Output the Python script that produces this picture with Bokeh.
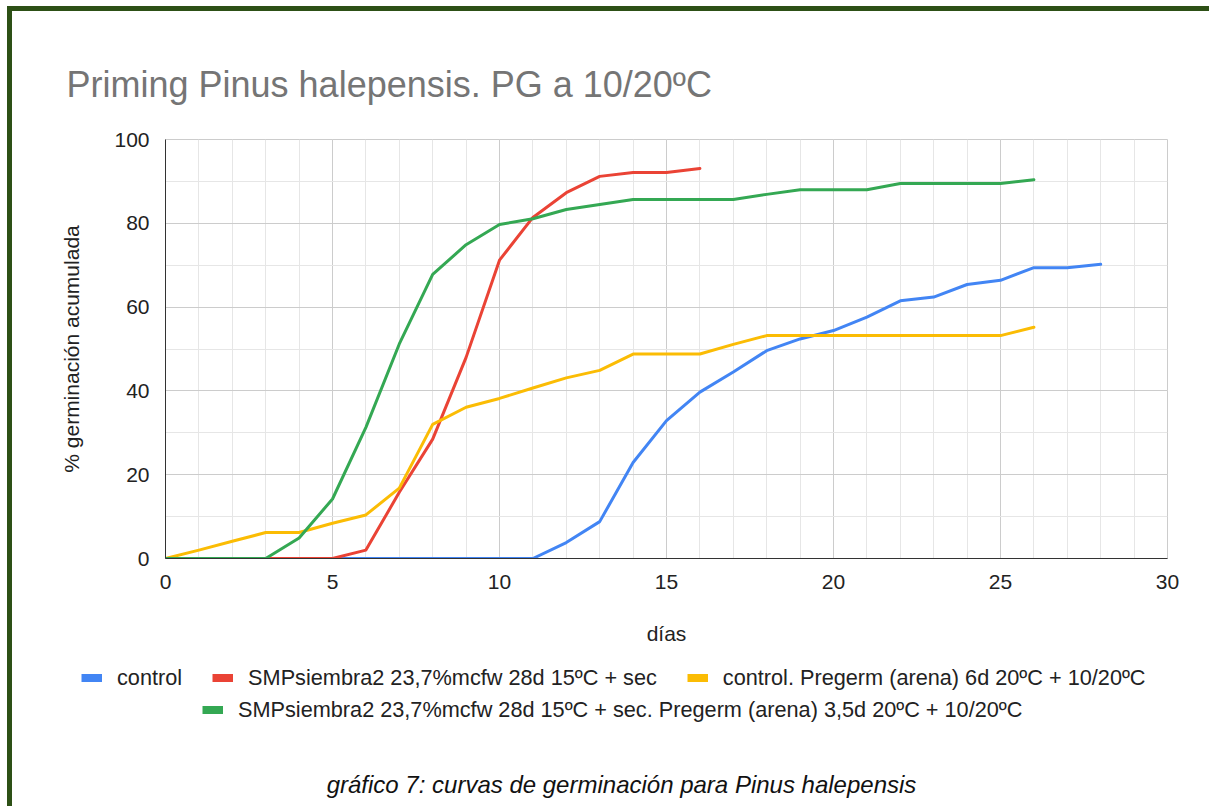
from bokeh.plotting import figure
from bokeh.models import (Range1d, SingleIntervalTicker, Legend, LegendItem, Label)
from bokeh.layouts import column
from bokeh.embed import file_html
from bokeh.resources import INLINE

# ---------------- data ----------------
title_text = "Priming Pinus halepensis. PG a 10/20ºC"
caption_text = "gráfico 7: curvas de germinación para Pinus halepensis"
x_label = "días"
y_label = "% germinación acumulada"

series_names = [
    "control",
    "SMPsiembra2 23,7%mcfw 28d 15ºC + sec",
    "control. Pregerm (arena) 6d 20ºC + 10/20ºC",
    "SMPsiembra2 23,7%mcfw 28d 15ºC + sec. Pregerm (arena) 3,5d 20ºC + 10/20ºC",
]
series_colors = ["#4285F4", "#EA4335", "#FBBC04", "#34A853"]

days_control = list(range(0, 29))
control = [0, 0, 0, 0, 0, 0, 0, 0, 0, 0, 0, 0,
           3.8, 8.8, 22.9, 32.9, 39.7, 44.5, 49.6, 52.4, 54.4, 57.6,
           61.5, 62.4, 65.4, 66.4, 69.4, 69.4, 70.2]

days_smp = list(range(0, 17))
smp = [0, 0, 0, 0, 0, 0, 2.0, 15.8, 28.5, 48.0, 71.2, 81.4, 87.3,
       91.2, 92.1, 92.1, 93.1]

days_ctrl_pregerm = list(range(0, 27))
ctrl_pregerm = [0, 2.0, 4.1, 6.2, 6.2, 8.4, 10.4, 16.8, 32.0, 36.1, 38.2,
                40.7, 43.1, 44.9, 48.8, 48.8, 48.8, 51.1, 53.2, 53.2, 53.2,
                53.2, 53.2, 53.2, 53.2, 53.2, 55.2]

days_smp_pregerm = list(range(0, 27))
smp_pregerm = [0, 0, 0, 0, 4.9, 14.2, 31.3, 51.2, 67.8, 74.9, 79.7, 81.1,
               83.3, 84.5, 85.7, 85.7, 85.7, 85.7, 86.9, 88.0, 88.0, 88.0,
               89.5, 89.5, 89.5, 89.5, 90.4]

x_min, x_max, x_step = 0, 30, 5
y_min, y_max, y_step = 0, 100, 20

# ---------------- main chart ----------------
FONT = "Liberation Sans"
W = 1197
H_MAIN = 651
H_LEG = 144

p = figure(width=W, height=H_MAIN, output_backend="svg", toolbar_location=None,
           x_range=Range1d(x_min, x_max), y_range=Range1d(y_min, y_max),
           min_border_left=153, min_border_right=42,
           min_border_top=128, min_border_bottom=104)
p.frame_align = False

p.title.text = title_text
p.title.text_font = FONT
p.title.text_font_size = "36px"
p.title.text_font_style = "normal"
p.title.text_color = "#757575"
p.title.align = "left"
p.title.offset = -99
p.title.standoff = 70

p.outline_line_color = "#cccccc"
p.background_fill_color = "white"
p.border_fill_color = "white"

p.xaxis.ticker = SingleIntervalTicker(interval=x_step, num_minor_ticks=5)
p.yaxis.ticker = SingleIntervalTicker(interval=y_step, num_minor_ticks=2)

for ax in (p.xaxis[0], p.yaxis[0]):
    ax.axis_line_color = "#333333"
    ax.axis_line_width = 1
    ax.major_tick_line_color = None
    ax.minor_tick_line_color = None
    ax.major_label_text_font = FONT
    ax.major_label_text_font_size = "21px"
    ax.major_label_text_color = "#222222"
    ax.axis_label_text_font = FONT
    ax.axis_label_text_font_size = "21px"
    ax.axis_label_text_font_style = "normal"
    ax.axis_label_text_color = "#222222"

p.xaxis.axis_label = x_label
p.yaxis.axis_label = y_label
p.xaxis.major_label_standoff = 10
p.xaxis.axis_label_standoff = 30
p.yaxis.major_label_standoff = 10
p.yaxis.axis_label_standoff = 28

p.xgrid.grid_line_color = "#cccccc"
p.ygrid.grid_line_color = "#cccccc"
p.xgrid.minor_grid_line_color = "#e6e6e6"
p.ygrid.minor_grid_line_color = "#e6e6e6"

xs_all = [days_control, days_smp, days_ctrl_pregerm, days_smp_pregerm]
ys_all = [control, smp, ctrl_pregerm, smp_pregerm]

for xs, ys, col in zip(xs_all, ys_all, series_colors):
    p.line(xs, ys, line_color=col, line_width=3, line_join="round", line_cap="round")

# ---------------- legend + caption strip ----------------
# ranges placed far from the data so that the swatch renderers stay hidden
q = figure(width=W, height=H_LEG, output_backend="svg", toolbar_location=None,
           x_range=Range1d(1000, 1001), y_range=Range1d(1000, 1001),
           x_axis_location=None, y_axis_location=None,
           min_border_left=0, min_border_right=0, min_border_top=0, min_border_bottom=0)
q.frame_align = False
q.grid.visible = False
q.outline_line_color = None
q.background_fill_color = "white"
q.border_fill_color = "white"

swatches = [q.line(xs, ys, line_color=col, line_width=8)
            for xs, ys, col in zip(xs_all, ys_all, series_colors)]

def make_legend(items, loc):
    return Legend(items=items, location=loc, orientation="horizontal",
                  padding=0, margin=0, spacing=30, label_standoff=15,
                  glyph_width=21, glyph_height=21, label_height=21,
                  label_text_font=FONT, label_text_font_size="21.7px",
                  label_text_color="#222222",
                  border_line_color=None, background_fill_alpha=0)

leg1 = make_legend([LegendItem(label=series_names[i], renderers=[swatches[i]]) for i in range(3)],
                   (69, 115.5))
leg2 = make_legend([LegendItem(label=series_names[3], renderers=[swatches[3]])],
                   (190, 83.5))
q.add_layout(leg1, "center")
q.add_layout(leg2, "center")

cap = Label(x=609, y=22, x_units="screen", y_units="screen", text=caption_text,
            text_font=FONT, text_font_size="24px", text_font_style="italic",
            text_color="#111111", text_align="center", text_baseline="middle")
q.add_layout(cap)

layout = column(p, q, spacing=0,
                styles={"position": "relative", "left": "7px", "top": "6px",
                        "border-left": "5px solid #2d5016",
                        "border-top": "5px solid #2d5016"})

with open("out.html", "w", encoding="utf-8") as f:
    f.write(file_html(layout, INLINE))
